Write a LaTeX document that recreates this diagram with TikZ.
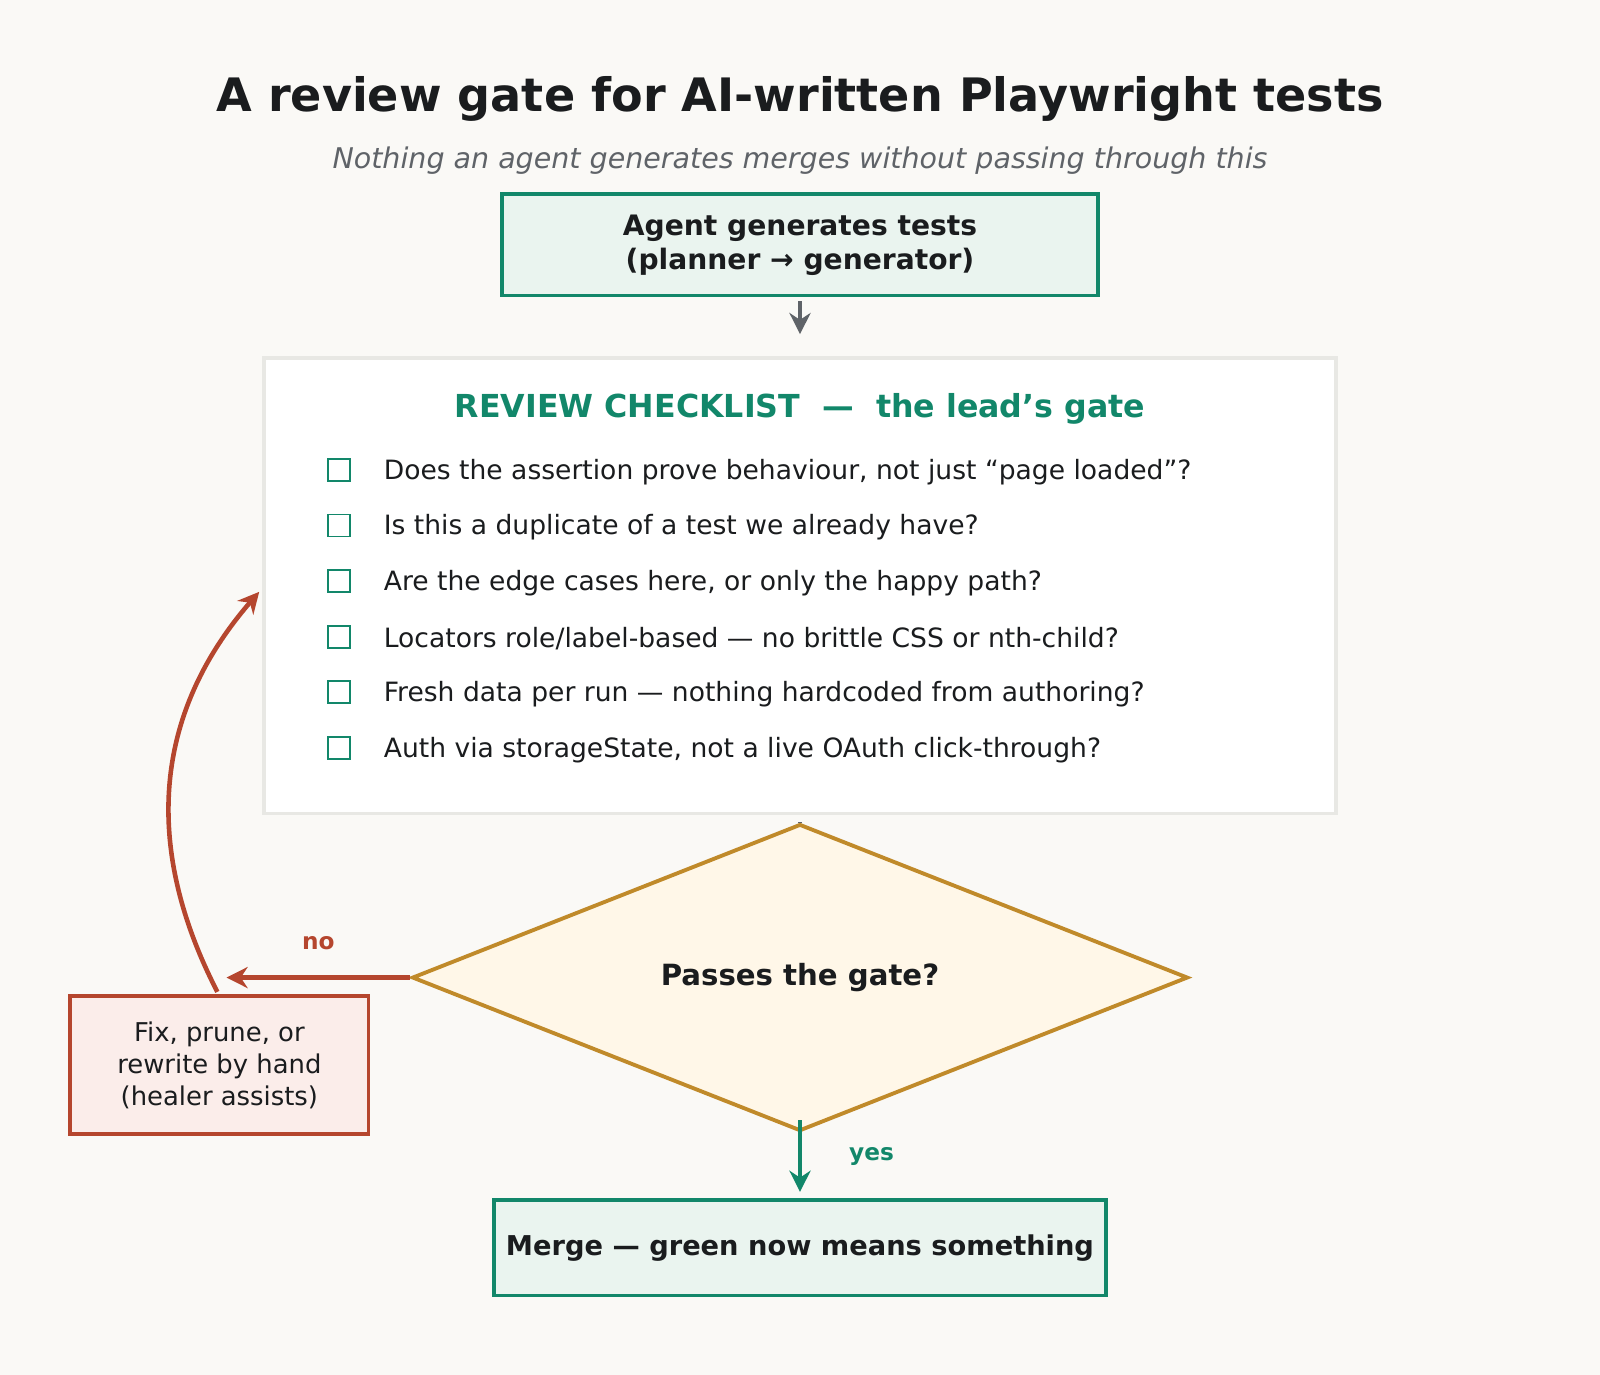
\documentclass[tikz,border=0pt]{standalone}
\usepackage{fontspec}
\setmainfont{DejaVu Sans}
\usetikzlibrary{shapes.geometric}
\usetikzlibrary{arrows.meta}
\definecolor{bgcol}{HTML}{FAF9F6}
\definecolor{teal}{HTML}{12876A}
\definecolor{tealfill}{HTML}{EAF4EF}
\definecolor{ink}{HTML}{1A1C1E}
\definecolor{muted}{HTML}{5F6368}
\definecolor{rust}{HTML}{B5462E}
\definecolor{rustfill}{HTML}{FBEDEA}
\definecolor{gold}{HTML}{C08A2A}
\definecolor{goldfill}{HTML}{FFF7E8}
\definecolor{frame}{HTML}{E8E8E4}
\tikzset{
	stepbox/.style={
		draw=teal,
		fill=tealfill,
		line width=1.1pt,
		text=ink,
		align=center,
		font=\fontsize{8pt}{9.6pt}\selectfont\bfseries
	},
	item/.style={
		anchor=west,
		text=ink,
		font=\fontsize{7.55pt}{8.6pt}\selectfont
	},
	tick/.style={
		draw=teal,
		line width=0.5pt,
		minimum size=0.22cm,
		inner sep=0pt
	},
	flow/.style={
		line width=1.3pt,
		-{Stealth[length=6pt,width=6pt]}
	}
}
\begin{document}
\begin{tikzpicture}[x=0.0102cm,y=-0.0102cm]
	
	% canvas
	\fill[bgcol] (0,0) rectangle (1568,1347);
	\useasboundingbox (0,0) rectangle (1568,1347);
	\node (title) at (784,97) {\fontsize{13.1pt}{15pt}\selectfont\bfseries\color{ink} A review gate for AI-written Playwright tests};
	\node (sub) at (784,157) {\fontsize{8.1pt}{9.6pt}\selectfont\itshape\color{muted} Nothing an agent generates merges without passing through this};
	
	% agent
	\node[stepbox,minimum width=5.96cm,minimum height=1.01cm] (agent) at (784,240) {Agent generates tests\\(planner \textrightarrow{} generator)};
	
	% checklist
	\node[draw=frame,fill=white,line width=1.1pt,minimum width=10.71cm,minimum height=4.55cm] (check) at (784,574) {};
	\node[text=teal,font=\fontsize{9pt}{10.5pt}\selectfont\bfseries] (head) at (784,401) {REVIEW CHECKLIST \ — \ the lead's gate};
	\foreach \txt [count=\i] in {
		{Does the assertion prove behaviour, not just “page loaded”?},
		{Is this a duplicate of a test we already have?},
		{Are the edge cases here, or only the happy path?},
		{Locators role/label-based — no brittle CSS or nth-child?},
		{Fresh data per run — nothing hardcoded from authoring?},
		{Auth via storageState, not a live OAuth click-through?}}{
		\node[tick] (box\i) at (332,{406+54.5*\i}) {};
		\node[item] (line\i) at (364,{408+54.5*\i}) {\txt};
	}
	
	% gate
	\node[diamond,draw=gold,fill=goldfill,line width=1.1pt,minimum width=7.75cm,minimum height=2.77cm,inner sep=0pt,font=\fontsize{8.3pt}{9.6pt}\selectfont\bfseries,text=ink] (gate) at (784,958) {Passes the gate?};
	\coordinate (stub) at (784,807);
	\draw[muted,line width=1.3pt] (stub) -- (gate.north);
	
	% fix
	\node[draw=rust,fill=rustfill,line width=1.1pt,minimum width=2.98cm,minimum height=1.38cm,align=center,text=ink,font=\fontsize{7.35pt}{9pt}\selectfont] (fix) at (215,1044) {Fix, prune, or\\rewrite by hand\\(healer assists)};
	
	% merge
	\node[stepbox,minimum width=4.47cm,minimum height=0.95cm,font=\fontsize{7.75pt}{9pt}\selectfont\bfseries] (merge) at (784,1223) {Merge — green now means something};
	
	% connectors
	\draw[flow,muted] (agent.south) ++(0,4) coordinate (a1) -- ++(0,32) coordinate (a2);
	\coordinate (nohead) at (222,958);
	\draw[flow,rust] (gate.west) -- (nohead) node[midway,above=4pt,font=\fontsize{6.6pt}{7pt}\selectfont\bfseries] {no};
	\coordinate (fixtop) at (213,972);
	\coordinate (back) at (254,580);
	\draw[flow,rust] (fixtop) .. controls (140,830) and (150,700) .. (back);
	\coordinate (yes0) at (784,1098);
	\coordinate (yes1) at (784,1168);
	\draw[flow,teal] (yes0) -- (yes1) node[midway,right=10pt,font=\fontsize{6.6pt}{7pt}\selectfont\bfseries] {yes};
\end{tikzpicture}
\end{document}
